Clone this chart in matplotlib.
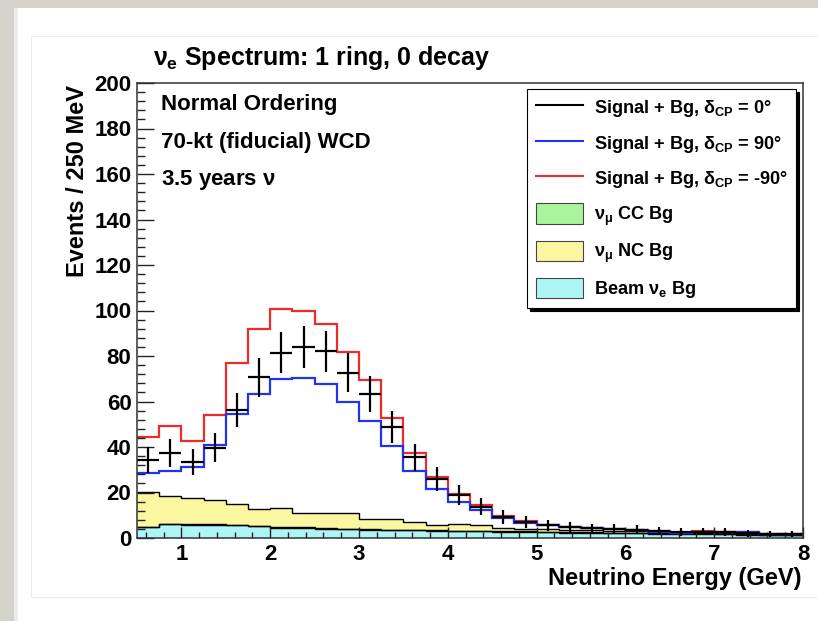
import numpy as np
import matplotlib.pyplot as plt
from matplotlib.lines import Line2D
from matplotlib.patches import Patch, Rectangle

plt.rcParams['font.family'] = ['Liberation Sans', 'DejaVu Sans']
plt.rcParams['font.weight'] = 'bold'
plt.rcParams['mathtext.fontset'] = 'custom'
plt.rcParams['mathtext.rm'] = 'Liberation Sans'
plt.rcParams['mathtext.it'] = 'Liberation Sans'
plt.rcParams['mathtext.bf'] = 'Liberation Sans:bold'

# 30 bins of 250 MeV from 0.5 to 8 GeV
edges = np.linspace(0.5, 8.0, 31)
centers = 0.5 * (edges[:-1] + edges[1:])

# signal + background, delta_CP = 0 (drawn with stat errors)
sig_dcp0 = [34.3, 37.5, 33.5, 39.7, 56.3, 70.6, 81.5, 84.1, 82.0, 72.7,
            63.2, 48.9, 35.5, 25.9, 18.9, 13.8, 9.4, 7.0, 5.6, 4.9,
            4.2, 4.1, 3.6, 3.2, 2.6, 2.8, 2.6, 2.0, 1.7, 1.6]
# delta_CP = +90
sig_dcp90 = [28.4, 29.6, 31.3, 40.9, 54.4, 63.2, 70.0, 70.3, 67.7, 59.6,
             51.6, 40.6, 29.6, 21.4, 16.0, 12.3, 8.7, 6.6, 5.6, 4.8,
             4.2, 4.0, 3.5, 2.8, 2.1, 2.8, 2.8, 2.6, 1.8, 1.8]
# delta_CP = -90
sig_dcpm90 = [44.3, 49.4, 42.5, 54.0, 76.8, 92.0, 100.5, 100.0, 94.2, 81.6,
              69.3, 52.6, 37.4, 26.7, 19.2, 14.5, 9.7, 7.3, 5.7, 5.0,
              4.3, 4.1, 3.6, 2.9, 2.2, 2.9, 2.8, 2.6, 1.8, 1.8]

# backgrounds
beam_nue = [4.8, 6.0, 5.8, 5.8, 5.6, 5.2, 4.6, 4.5, 4.0, 3.8,
            3.7, 3.5, 3.3, 3.1, 3.0, 2.9, 2.8, 2.6, 2.5, 2.4,
            2.2, 2.1, 2.0, 1.9, 1.8, 1.7, 1.6, 1.5, 1.3, 1.2]
numu_cc = [0.2, 0.2, 0.2, 0.2, 0.2, 0.2, 0.2, 0.2, 0.2, 0.2,
           0.2, 0.2, 0.2, 0.2, 0.2, 0.2, 0.3, 0.3, 0.3, 0.3,
           0.3, 0.3, 0.3, 0.3, 0.3, 0.3, 0.3, 0.2, 0.2, 0.2]
numu_nc = [15.2, 12.4, 11.7, 10.7, 9.0, 7.2, 8.3, 6.4, 6.8, 6.9,
           4.6, 4.5, 3.4, 2.5, 2.8, 2.4, 1.4, 1.2, 1.0, 0.8,
           0.8, 0.7, 0.6, 0.5, 0.4, 0.3, 0.4, 0.3, 0.3, 0.2]

fig = plt.figure(figsize=(8.18, 6.21), dpi=100, facecolor='white')

# slide border around the canvas
fig.patches.append(Rectangle((0, 0), 14 / 818, 1, transform=fig.transFigure,
                             facecolor='#d6d3cb', edgecolor='none', zorder=0))
fig.patches.append(Rectangle((0, 1 - 8 / 621), 1, 8 / 621, transform=fig.transFigure,
                             facecolor='#d6d3cb', edgecolor='none', zorder=0))
fig.patches.append(Rectangle((14 / 818, 0), 4 / 818, 1 - 8 / 621, transform=fig.transFigure,
                             facecolor='#ececea', edgecolor='none', zorder=0))
fig.patches.append(Rectangle((31 / 818, 24 / 621), 1, 561 / 621, transform=fig.transFigure,
                             facecolor='none', edgecolor='#ebebeb', lw=0.8, zorder=0))

ax = fig.add_axes([137 / 818, 83 / 621, 666 / 818, 455 / 621])

cc_top = np.array(beam_nue) + np.array(numu_cc)
nc_top = cc_top + np.array(numu_nc)

ax.stairs(nc_top, edges, baseline=0, fill=True, color='#fbf7a0', lw=0)
ax.stairs(cc_top, edges, baseline=0, fill=True, color='#aaf59c', lw=0)
ax.stairs(beam_nue, edges, baseline=0, fill=True, color='#aef5f5', lw=0)
for top in (nc_top, cc_top, beam_nue):
    ax.stairs(top, edges, baseline=None, color='black', lw=1.0)

ax.stairs(sig_dcpm90, edges, baseline=None, color='#ee2a2a', lw=1.6)
ax.stairs(sig_dcp90, edges, baseline=None, color='#2233ee', lw=1.6)

sig = np.array(sig_dcp0)
ax.errorbar(centers, sig, xerr=0.125, yerr=np.sqrt(sig), fmt='none',
            ecolor='black', elinewidth=1.6, capsize=0)

ax.set_xlim(0.5, 8.0)
ax.set_ylim(0, 200)
ax.set_xticks(np.arange(1, 9))
ax.set_xticks(np.arange(0.6, 8.0, 0.2), minor=True)
ax.set_yticks(np.arange(0, 201, 20))
ax.set_yticks(np.arange(0, 201, 4), minor=True)
ax.tick_params(axis='both', which='both', direction='in', labelsize=16,
               top=False, right=False, width=1.0, color='#222222')
ax.tick_params(axis='y', which='major', length=12, pad=4)
ax.tick_params(axis='y', which='minor', length=6)
ax.tick_params(axis='x', which='major', length=8, pad=4)
ax.tick_params(axis='x', which='minor', length=4)
for s in ax.spines.values():
    s.set_linewidth(1.1)
    s.set_color('#333333')

ax.text(0.036, 0.952, 'Normal Ordering', transform=ax.transAxes,
        fontsize=16, va='center', ha='left')
ax.text(0.036, 0.870, '70-kt (fiducial) WCD', transform=ax.transAxes,
        fontsize=16, va='center', ha='left')
ax.text(0.036, 0.787, r'3.5 years $\nu$', transform=ax.transAxes,
        fontsize=16, va='center', ha='left')

handles = [
    Line2D([], [], color='black', lw=1.5),
    Line2D([], [], color='#2233ee', lw=1.5),
    Line2D([], [], color='#ee2a2a', lw=1.5),
    Patch(facecolor='#aaf59c', edgecolor='#444444', lw=0.8),
    Patch(facecolor='#fbf7a0', edgecolor='#444444', lw=0.8),
    Patch(facecolor='#aef5f5', edgecolor='#444444', lw=0.8),
]
labels = [
    r'Signal + Bg, $\delta_{\mathbf{CP}}$ = 0°',
    r'Signal + Bg, $\delta_{\mathbf{CP}}$ = 90°',
    r'Signal + Bg, $\delta_{\mathbf{CP}}$ = -90°',
    r'$\nu_{\mu}$ CC Bg',
    r'$\nu_{\mu}$ NC Bg',
    r'Beam $\nu_{\mathbf{e}}$ Bg',
]
leg = ax.legend(handles, labels, loc='upper right', bbox_to_anchor=(0.9895, 0.987),
                borderaxespad=0, fontsize=13.1, handlelength=2.6, handleheight=1.35,
                handletextpad=0.62, labelspacing=0.72, borderpad=0.45,
                fancybox=False, framealpha=1, edgecolor='black',
                shadow={'color': 'black', 'alpha': 1})
leg.get_frame().set_linewidth(0.8)

fig.text(153 / 818, 1 - 58 / 621, r'$\nu_{\mathbf{e}}$ Spectrum: 1 ring, 0 decay',
         fontsize=18, ha='left', va='center')
fig.text(78 / 818, 1 - 85 / 621, 'Events / 250 MeV', rotation=90,
         fontsize=17, ha='center', va='top')
fig.text(801 / 818, 1 - 578 / 621, 'Neutrino Energy (GeV)',
         fontsize=17, ha='right', va='center')

fig.savefig('out.png', dpi=100, facecolor='white')
